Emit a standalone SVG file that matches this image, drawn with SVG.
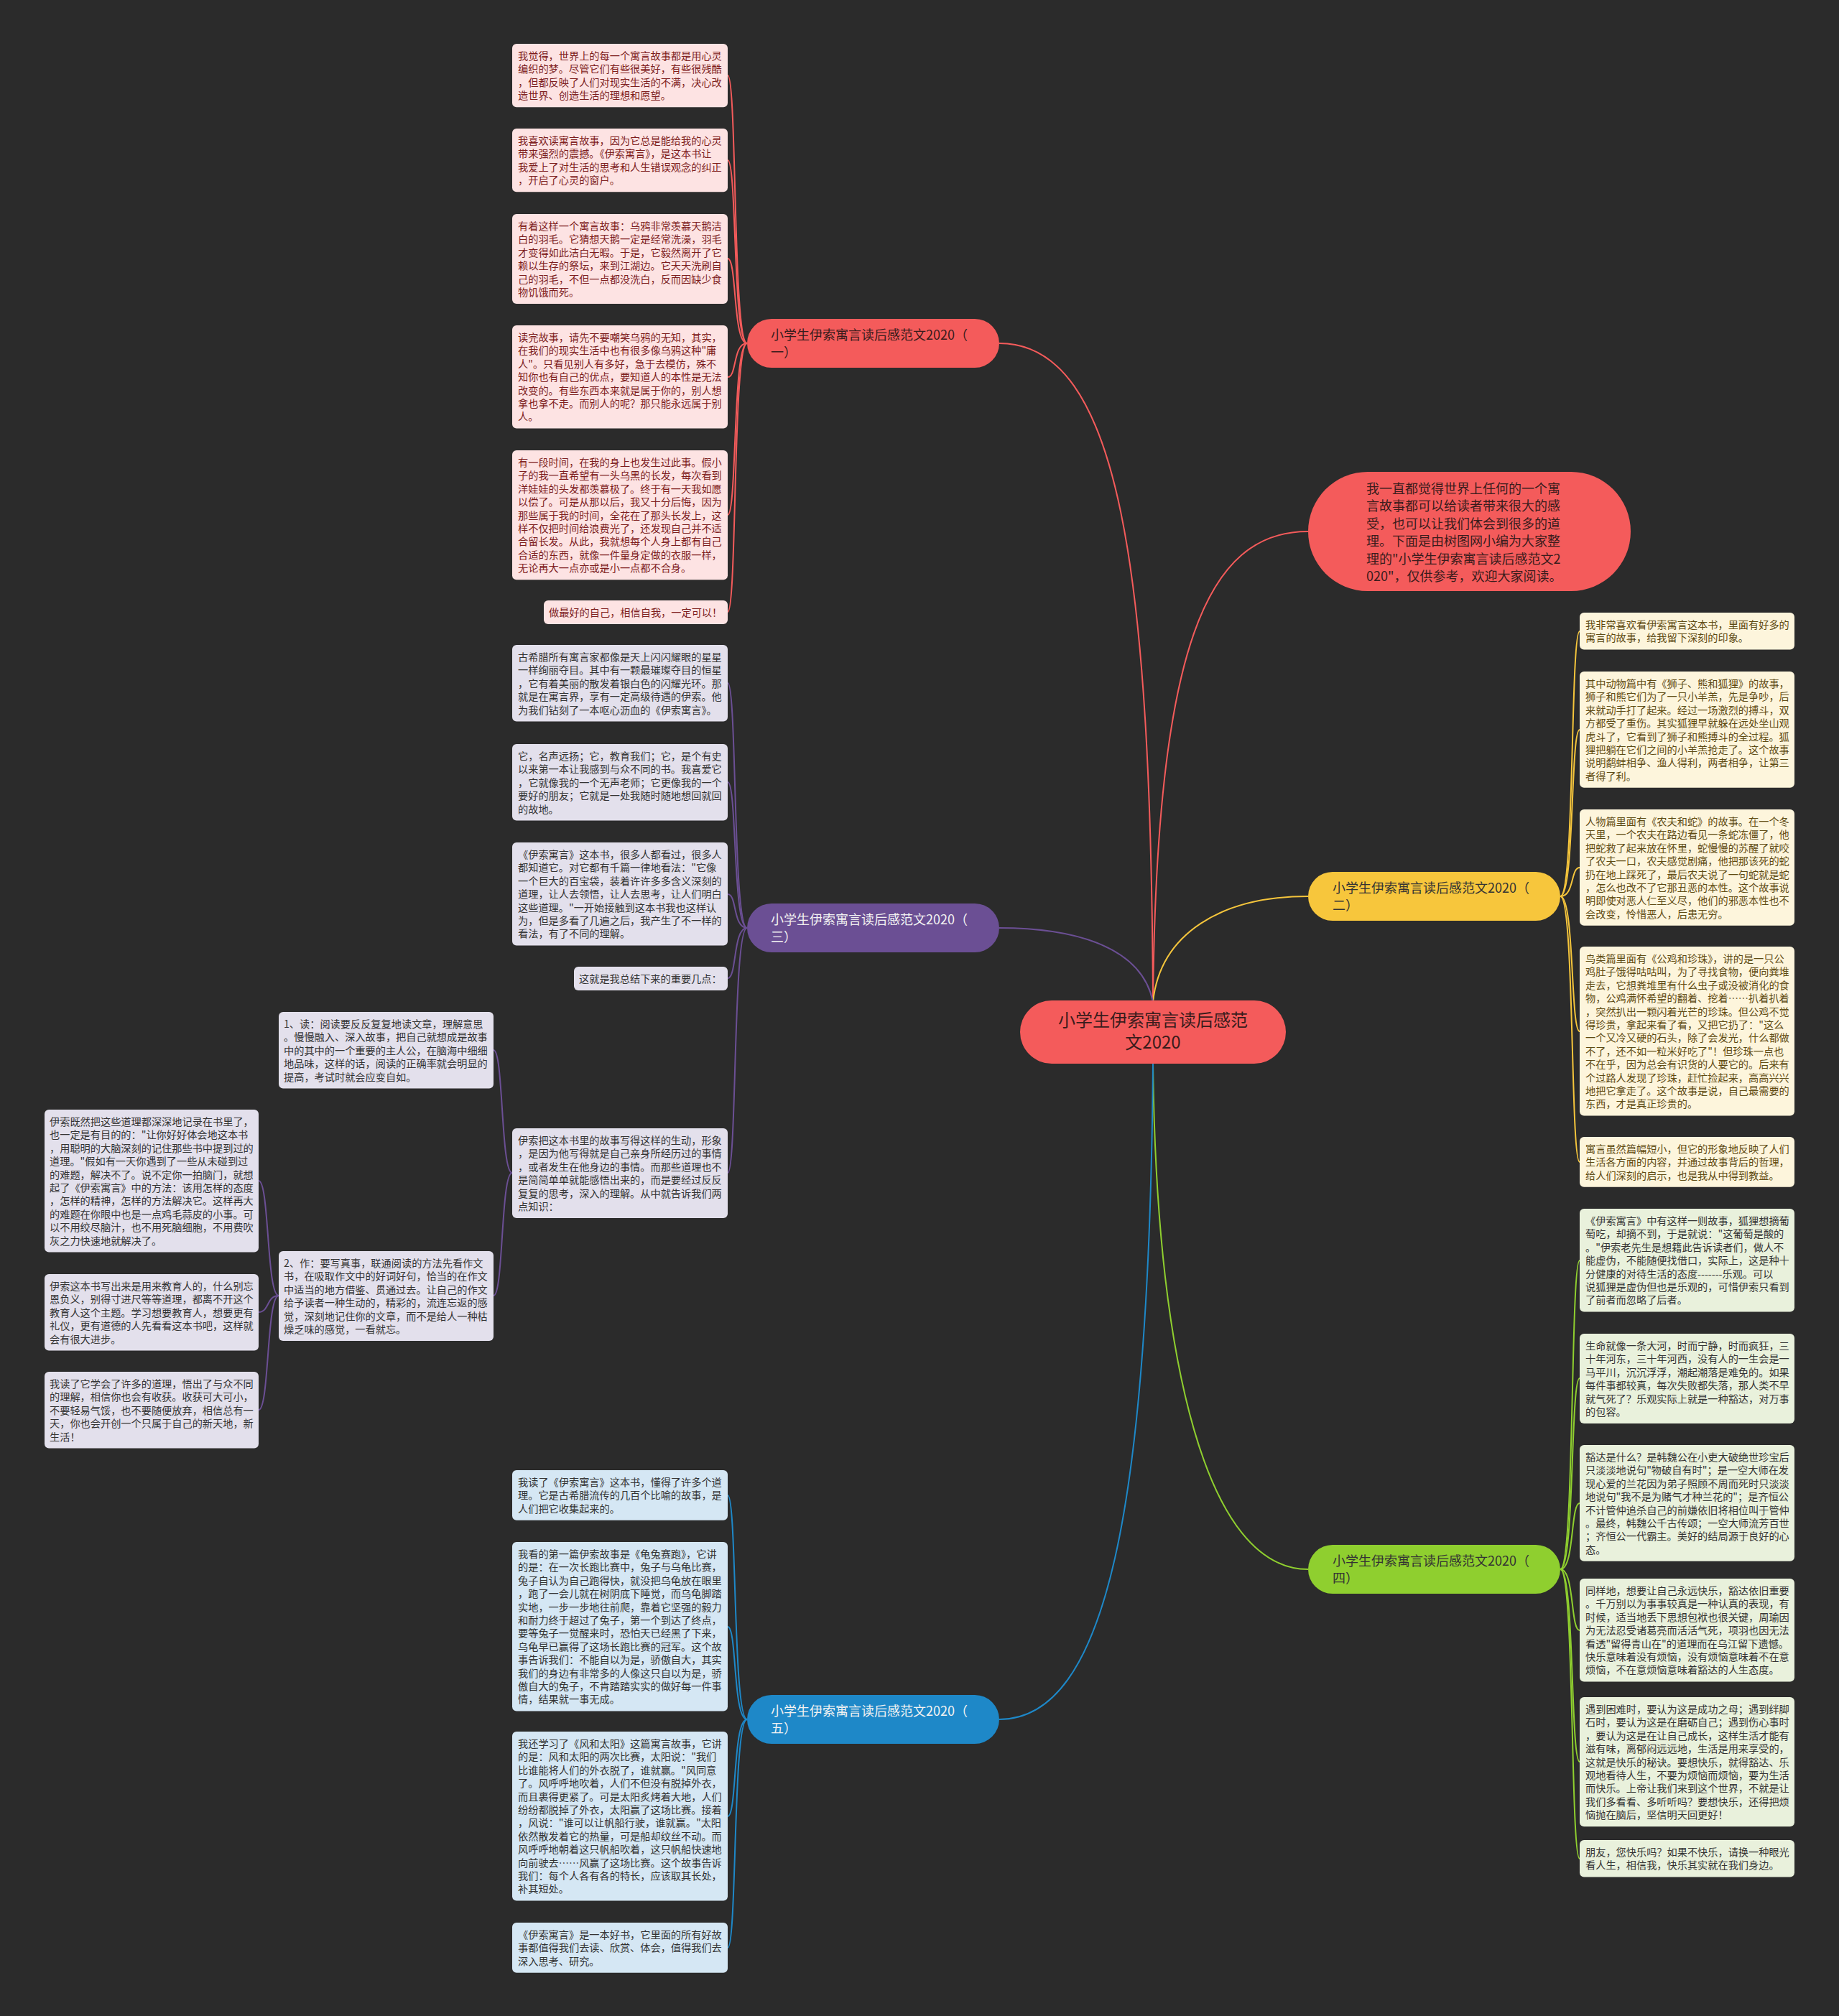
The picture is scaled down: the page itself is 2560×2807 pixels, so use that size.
<svg xmlns="http://www.w3.org/2000/svg" width="2560" height="2807" viewBox="0 0 2560 2807">
<style>
text{font-family:"Noto Sans CJK SC","Noto Sans",sans-serif;}
.leaf text{font-size:14.2px;}
.pk rect{fill:#fde3e3;} .pk text{fill:#7d1d1d;}
.yl rect{fill:#fdf5dc;} .yl text{fill:#5e4a12;}
.pu rect{fill:#e3e0ec;} .pu text{fill:#333333;}
.gr rect{fill:#e9f1dc;} .gr text{fill:#333333;}
.bl rect{fill:#d5e7f4;} .bl text{fill:#333333;}
.lbl text{font-size:18px;}
.c{fill:none;stroke-width:2;}
.cr{stroke:#f45b5b;} .cy{stroke:#f5c53c;} .cp{stroke:#6b4f94;} .cg{stroke:#8fcf2f;} .cb{stroke:#1e88c8;}
</style>
<rect x="0" y="0" width="2560" height="2807" fill="#2b2b2b"/>

<g id="connectors">
  <path class="c cr" d="M1605,1395 C1602,800 1560,478 1391,478"/>
  <path class="c cr" d="M1605,1395 C1610,900 1680,740 1821,740"/>
  <path class="c cy" d="M1605,1395 C1615,1300 1700,1248 1821,1248"/>
  <path class="c cp" d="M1605,1395 C1590,1320 1500,1292 1391,1292"/>
  <path class="c cg" d="M1605,1481 C1610,1900 1680,2185 1821,2185"/>
  <path class="c cb" d="M1605,1481 C1600,2100 1540,2394 1391,2394"/>
  <!-- branch 1 -->
  <path class="c cr" d="M1040,478 C1020,478 1026,105 1013,105"/>
  <path class="c cr" d="M1040,478 C1020,478 1026,223 1013,223"/>
  <path class="c cr" d="M1040,478 C1020,478 1026,360 1013,360"/>
  <path class="c cr" d="M1040,478 C1020,478 1026,525 1013,525"/>
  <path class="c cr" d="M1040,478 C1020,478 1026,717 1013,717"/>
  <path class="c cr" d="M1040,478 C1020,478 1026,852 1013,852"/>
  <!-- branch 3 -->
  <path class="c cp" d="M1040,1292 C1020,1292 1026,951 1013,951"/>
  <path class="c cp" d="M1040,1292 C1020,1292 1026,1089 1013,1089"/>
  <path class="c cp" d="M1040,1292 C1020,1292 1026,1245 1013,1245"/>
  <path class="c cp" d="M1040,1292 C1020,1292 1026,1362 1013,1362"/>
  <path class="c cp" d="M1040,1292 C1020,1292 1026,1633 1013,1633"/>
  <path class="c cp" d="M713,1633 C697,1633 701,1462 687,1462"/>
  <path class="c cp" d="M713,1633 C697,1633 701,1804 687,1804"/>
  <path class="c cp" d="M388,1804 C371,1804 375,1644 360,1644"/>
  <path class="c cp" d="M388,1804 C371,1804 375,1827 360,1827"/>
  <path class="c cp" d="M388,1804 C371,1804 375,1963 360,1963"/>
  <!-- branch 5 -->
  <path class="c cb" d="M1040,2394 C1020,2394 1026,2082 1013,2082"/>
  <path class="c cb" d="M1040,2394 C1020,2394 1026,2265 1013,2265"/>
  <path class="c cb" d="M1040,2394 C1020,2394 1026,2529 1013,2529"/>
  <path class="c cb" d="M1040,2394 C1020,2394 1026,2712 1013,2712"/>
  <!-- branch 2 -->
  <path class="c cy" d="M2172,1248 C2192,1248 2186,879 2199,879"/>
  <path class="c cy" d="M2172,1248 C2192,1248 2186,1016 2199,1016"/>
  <path class="c cy" d="M2172,1248 C2192,1248 2186,1208 2199,1208"/>
  <path class="c cy" d="M2172,1248 C2192,1248 2186,1436 2199,1436"/>
  <path class="c cy" d="M2172,1248 C2192,1248 2186,1618 2199,1618"/>
  <!-- branch 4 -->
  <path class="c cg" d="M2172,2185 C2192,2185 2186,1755 2199,1755"/>
  <path class="c cg" d="M2172,2185 C2192,2185 2186,1919 2199,1919"/>
  <path class="c cg" d="M2172,2185 C2192,2185 2186,2093 2199,2093"/>
  <path class="c cg" d="M2172,2185 C2192,2185 2186,2270 2199,2270"/>
  <path class="c cg" d="M2172,2185 C2192,2185 2186,2453 2199,2453"/>
  <path class="c cg" d="M2172,2185 C2192,2185 2186,2588 2199,2588"/>
</g>

<g id="center">
  <rect x="1420" y="1393" width="370" height="88" rx="44" fill="#f45b5b"/>
  <text x="1605" y="1429" font-size="24" fill="#3a1c1c" text-anchor="middle">小学生伊索寓言读后感范<tspan x="1605" dy="31">文2020</tspan></text>
</g>

<g id="intro">
  <rect x="1821" y="657" width="449" height="166" rx="83" fill="#f45b5b"/>
  <text x="1902" y="687" font-size="18" fill="#3a1c1c"><tspan x="1902">我一直都觉得世界上任何的一个寓</tspan><tspan x="1902" dy="24.4">言故事都可以给读者带来很大的感</tspan><tspan x="1902" dy="24.4">受，也可以让我们体会到很多的道</tspan><tspan x="1902" dy="24.4">理。下面是由树图网小编为大家整</tspan><tspan x="1902" dy="24.4">理的"小学生伊索寓言读后感范文2</tspan><tspan x="1902" dy="24.4">020"，仅供参考，欢迎大家阅读。</tspan></text>
</g>

<g id="branch1" class="lbl">
  <rect x="1040" y="444" width="351" height="68" rx="34" fill="#f45b5b"/>
  <text x="1073" y="473" fill="#3a1c1c">小学生伊索寓言读后感范文2020（<tspan x="1073" dy="24">一）</tspan></text>
</g>
<g id="branch2" class="lbl">
  <rect x="1821" y="1214" width="351" height="68" rx="34" fill="#f7c63c"/>
  <text x="1855" y="1243" fill="#333333">小学生伊索寓言读后感范文2020（<tspan x="1855" dy="24">二）</tspan></text>
</g>
<g id="branch3" class="lbl">
  <rect x="1040" y="1258" width="351" height="68" rx="34" fill="#6b4f94"/>
  <text x="1073" y="1287" fill="#f2f2f2">小学生伊索寓言读后感范文2020（<tspan x="1073" dy="24">三）</tspan></text>
</g>
<g id="branch4" class="lbl">
  <rect x="1821" y="2151" width="351" height="68" rx="34" fill="#8fcf2f"/>
  <text x="1855" y="2180" fill="#333333">小学生伊索寓言读后感范文2020（<tspan x="1855" dy="24">四）</tspan></text>
</g>
<g id="branch5" class="lbl">
  <rect x="1040" y="2360" width="351" height="68" rx="34" fill="#1e88c8"/>
  <text x="1073" y="2389" fill="#f2f2f2">小学生伊索寓言读后感范文2020（<tspan x="1073" dy="24">五）</tspan></text>
</g>

<!-- branch 1 leaves -->
<g id="b1-1" class="leaf pk"><rect x="713" y="61" width="300" height="88.2" rx="6"/>
<text y="83"><tspan x="721">我觉得，世界上的每一个寓言故事都是用心灵</tspan><tspan x="721" dy="18.4">编织的梦。尽管它们有些很美好，有些很残酷</tspan><tspan x="721" dy="18.4">，但都反映了人们对现实生活的不满，决心改</tspan><tspan x="721" dy="18.4">造世界、创造生活的理想和愿望。</tspan></text></g>
<g id="b1-2" class="leaf pk"><rect x="713" y="179" width="300" height="88.2" rx="6"/>
<text y="201"><tspan x="721">我喜欢读寓言故事，因为它总是能给我的心灵</tspan><tspan x="721" dy="18.4">带来强烈的震撼。《伊索寓言》，是这本书让</tspan><tspan x="721" dy="18.4">我爱上了对生活的思考和人生错误观念的纠正</tspan><tspan x="721" dy="18.4">，开启了心灵的窗户。</tspan></text></g>
<g id="b1-3" class="leaf pk"><rect x="713" y="298" width="300" height="125" rx="6"/>
<text y="320"><tspan x="721">有着这样一个寓言故事：乌鸦非常羡慕天鹅洁</tspan><tspan x="721" dy="18.4">白的羽毛。它猜想天鹅一定是经常洗澡，羽毛</tspan><tspan x="721" dy="18.4">才变得如此洁白无暇。于是，它毅然离开了它</tspan><tspan x="721" dy="18.4">赖以生存的祭坛，来到江湖边。它天天洗刷自</tspan><tspan x="721" dy="18.4">己的羽毛，不但一点都没洗白，反而因缺少食</tspan><tspan x="721" dy="18.4">物饥饿而死。</tspan></text></g>
<g id="b1-4" class="leaf pk"><rect x="713" y="453" width="300" height="143.4" rx="6"/>
<text y="475"><tspan x="721">读完故事，请先不要嘲笑乌鸦的无知，其实，</tspan><tspan x="721" dy="18.4">在我们的现实生活中也有很多像乌鸦这种"庸</tspan><tspan x="721" dy="18.4">人"。只看见别人有多好，急于去模仿，殊不</tspan><tspan x="721" dy="18.4">知你也有自己的优点，要知道人的本性是无法</tspan><tspan x="721" dy="18.4">改变的。有些东西本来就是属于你的，别人想</tspan><tspan x="721" dy="18.4">拿也拿不走。而别人的呢？那只能永远属于别</tspan><tspan x="721" dy="18.4">人。</tspan></text></g>
<g id="b1-5" class="leaf pk"><rect x="713" y="627" width="300" height="180.2" rx="6"/>
<text y="649"><tspan x="721">有一段时间，在我的身上也发生过此事。假小</tspan><tspan x="721" dy="18.4">子的我一直希望有一头乌黑的长发，每次看到</tspan><tspan x="721" dy="18.4">洋娃娃的头发都羡慕极了。终于有一天我如愿</tspan><tspan x="721" dy="18.4">以偿了。可是从那以后，我又十分后悔，因为</tspan><tspan x="721" dy="18.4">那些属于我的时间，全花在了那头长发上，这</tspan><tspan x="721" dy="18.4">样不仅把时间给浪费光了，还发现自己并不适</tspan><tspan x="721" dy="18.4">合留长发。从此，我就想每个人身上都有自己</tspan><tspan x="721" dy="18.4">合适的东西，就像一件量身定做的衣服一样，</tspan><tspan x="721" dy="18.4">无论再大一点亦或是小一点都不合身。</tspan></text></g>
<g id="b1-6" class="leaf pk"><rect x="757" y="836" width="256" height="33" rx="6"/>
<text y="858"><tspan x="764">做最好的自己，相信自我，一定可以！</tspan></text></g>

<!-- branch 3 leaves -->
<g id="b3-1" class="leaf pu"><rect x="713" y="898" width="300" height="106.6" rx="6"/>
<text y="920"><tspan x="721">古希腊所有寓言家都像是天上闪闪耀眼的星星</tspan><tspan x="721" dy="18.4">一样绚丽夺目。其中有一颗最璀璨夺目的恒星</tspan><tspan x="721" dy="18.4">，它有着美丽的散发着银白色的闪耀光环。那</tspan><tspan x="721" dy="18.4">就是在寓言界，享有一定高级待遇的伊索。他</tspan><tspan x="721" dy="18.4">为我们钻刻了一本呕心沥血的《伊索寓言》。</tspan></text></g>
<g id="b3-2" class="leaf pu"><rect x="713" y="1036" width="300" height="106.6" rx="6"/>
<text y="1058"><tspan x="721">它，名声远扬；它，教育我们；它，是个有史</tspan><tspan x="721" dy="18.4">以来第一本让我感到与众不同的书。我喜爱它</tspan><tspan x="721" dy="18.4">，它就像我的一个无声老师；它更像我的一个</tspan><tspan x="721" dy="18.4">要好的朋友；它就是一处我随时随地想回就回</tspan><tspan x="721" dy="18.4">的故地。</tspan></text></g>
<g id="b3-3" class="leaf pu"><rect x="713" y="1173" width="300" height="143.4" rx="6"/>
<text y="1195"><tspan x="721">《伊索寓言》这本书，很多人都看过，很多人</tspan><tspan x="721" dy="18.4">都知道它。对它都有千篇一律地看法："它像</tspan><tspan x="721" dy="18.4">一个巨大的百宝袋，装着许许多多含义深刻的</tspan><tspan x="721" dy="18.4">道理，让人去领悟，让人去思考，让人们明白</tspan><tspan x="721" dy="18.4">这些道理。"一开始接触到这本书我也这样认</tspan><tspan x="721" dy="18.4">为，但是多看了几遍之后，我产生了不一样的</tspan><tspan x="721" dy="18.4">看法，有了不同的理解。</tspan></text></g>
<g id="b3-4" class="leaf pu"><rect x="799" y="1346" width="214" height="33" rx="6"/>
<text y="1368"><tspan x="806">这就是我总结下来的重要几点：</tspan></text></g>
<g id="b3-5" class="leaf pu"><rect x="713" y="1571" width="300" height="125" rx="6"/>
<text y="1593"><tspan x="721">伊索把这本书里的故事写得这样的生动，形象</tspan><tspan x="721" dy="18.4">，是因为他写得就是自己亲身所经历过的事情</tspan><tspan x="721" dy="18.4">，或者发生在他身边的事情。而那些道理也不</tspan><tspan x="721" dy="18.4">是简简单单就能感悟出来的，而是要经过反反</tspan><tspan x="721" dy="18.4">复复的思考，深入的理解。从中就告诉我们两</tspan><tspan x="721" dy="18.4">点知识：</tspan></text></g>
<g id="b3-5-1" class="leaf pu"><rect x="388" y="1409" width="299" height="106.6" rx="6"/>
<text y="1431"><tspan x="395">1、读：阅读要反反复复地读文章，理解意思</tspan><tspan x="395" dy="18.4">。慢慢融入、深入故事，把自己就想成是故事</tspan><tspan x="395" dy="18.4">中的其中的一个重要的主人公，在脑海中细细</tspan><tspan x="395" dy="18.4">地品味，这样的话，阅读的正确率就会明显的</tspan><tspan x="395" dy="18.4">提高，考试时就会应变自如。</tspan></text></g>
<g id="b3-5-2" class="leaf pu"><rect x="388" y="1742" width="299" height="125" rx="6"/>
<text y="1764"><tspan x="395">2、作：要写真事，联通阅读的方法先看作文</tspan><tspan x="395" dy="18.4">书，在吸取作文中的好词好句，恰当的在作文</tspan><tspan x="395" dy="18.4">中适当的地方借鉴、贯通过去。让自己的作文</tspan><tspan x="395" dy="18.4">给予读者一种生动的，精彩的，流连忘返的感</tspan><tspan x="395" dy="18.4">觉，深刻地记住你的文章，而不是给人一种枯</tspan><tspan x="395" dy="18.4">燥乏味的感觉，一看就忘。</tspan></text></g>
<g id="b3-5-2-1" class="leaf pu"><rect x="62" y="1545" width="298" height="198.6" rx="6"/>
<text y="1567"><tspan x="69">伊索既然把这些道理都深深地记录在书里了，</tspan><tspan x="69" dy="18.4">也一定是有目的的："让你好好体会地这本书</tspan><tspan x="69" dy="18.4">，用聪明的大脑深刻的记住那些书中提到过的</tspan><tspan x="69" dy="18.4">道理。"假如有一天你遇到了一些从未碰到过</tspan><tspan x="69" dy="18.4">的难题，解决不了。说不定你一拍脑门，就想</tspan><tspan x="69" dy="18.4">起了《伊索寓言》中的方法：该用怎样的态度</tspan><tspan x="69" dy="18.4">，怎样的精神，怎样的方法解决它。这样再大</tspan><tspan x="69" dy="18.4">的难题在你眼中也是一点鸡毛蒜皮的小事。可</tspan><tspan x="69" dy="18.4">以不用绞尽脑汁，也不用死脑细胞，不用费吹</tspan><tspan x="69" dy="18.4">灰之力快速地就解决了。</tspan></text></g>
<g id="b3-5-2-2" class="leaf pu"><rect x="62" y="1774" width="298" height="106.6" rx="6"/>
<text y="1796"><tspan x="69">伊索这本书写出来是用来教育人的，什么别忘</tspan><tspan x="69" dy="18.4">恩负义，别得寸进尺等等道理，都离不开这个</tspan><tspan x="69" dy="18.4">教育人这个主题。学习想要教育人，想要更有</tspan><tspan x="69" dy="18.4">礼仪，更有道德的人先看看这本书吧，这样就</tspan><tspan x="69" dy="18.4">会有很大进步。</tspan></text></g>
<g id="b3-5-2-3" class="leaf pu"><rect x="62" y="1910" width="298" height="106.6" rx="6"/>
<text y="1932"><tspan x="69">我读了它学会了许多的道理，悟出了与众不同</tspan><tspan x="69" dy="18.4">的理解，相信你也会有收获。收获可大可小，</tspan><tspan x="69" dy="18.4">不要轻易气馁，也不要随便放弃，相信总有一</tspan><tspan x="69" dy="18.4">天，你也会开创一个只属于自己的新天地，新</tspan><tspan x="69" dy="18.4">生活！</tspan></text></g>

<!-- branch 5 leaves -->
<g id="b5-1" class="leaf bl"><rect x="713" y="2047" width="300" height="69.8" rx="6"/>
<text y="2069"><tspan x="721">我读了《伊索寓言》这本书，懂得了许多个道</tspan><tspan x="721" dy="18.4">理。它是古希腊流传的几百个比喻的故事，是</tspan><tspan x="721" dy="18.4">人们把它收集起来的。</tspan></text></g>
<g id="b5-2" class="leaf bl"><rect x="713" y="2147" width="300" height="235.4" rx="6"/>
<text y="2169"><tspan x="721">我看的第一篇伊索故事是《龟兔赛跑》，它讲</tspan><tspan x="721" dy="18.4">的是：在一次长跑比赛中，兔子与乌龟比赛，</tspan><tspan x="721" dy="18.4">兔子自认为自己跑得快，就没把乌龟放在眼里</tspan><tspan x="721" dy="18.4">，跑了一会儿就在树阴底下睡觉，而乌龟脚踏</tspan><tspan x="721" dy="18.4">实地，一步一步地往前爬，靠着它坚强的毅力</tspan><tspan x="721" dy="18.4">和耐力终于超过了兔子，第一个到达了终点，</tspan><tspan x="721" dy="18.4">要等兔子一觉醒来时，恐怕天已经黑了下来，</tspan><tspan x="721" dy="18.4">乌龟早已赢得了这场长跑比赛的冠军。这个故</tspan><tspan x="721" dy="18.4">事告诉我们：不能自以为是，骄傲自大，其实</tspan><tspan x="721" dy="18.4">我们的身边有非常多的人像这只自以为是，骄</tspan><tspan x="721" dy="18.4">傲自大的兔子，不肯踏踏实实的做好每一件事</tspan><tspan x="721" dy="18.4">情，结果就一事无成。</tspan></text></g>
<g id="b5-3" class="leaf bl"><rect x="713" y="2411" width="300" height="235.4" rx="6"/>
<text y="2433"><tspan x="721">我还学习了《风和太阳》这篇寓言故事，它讲</tspan><tspan x="721" dy="18.4">的是：风和太阳的两次比赛，太阳说："我们</tspan><tspan x="721" dy="18.4">比谁能将人们的外衣脱了，谁就赢。"风同意</tspan><tspan x="721" dy="18.4">了。风呼呼地吹着，人们不但没有脱掉外衣，</tspan><tspan x="721" dy="18.4">而且裹得更紧了。可是太阳炙烤着大地，人们</tspan><tspan x="721" dy="18.4">纷纷都脱掉了外衣，太阳赢了这场比赛。接着</tspan><tspan x="721" dy="18.4">，风说："谁可以让帆船行驶，谁就赢。"太阳</tspan><tspan x="721" dy="18.4">依然散发着它的热量，可是船却纹丝不动。而</tspan><tspan x="721" dy="18.4">风呼呼地朝着这只帆船吹着，这只帆船快速地</tspan><tspan x="721" dy="18.4">向前驶去……风赢了这场比赛。这个故事告诉</tspan><tspan x="721" dy="18.4">我们：每个人各有各的特长，应该取其长处，</tspan><tspan x="721" dy="18.4">补其短处。</tspan></text></g>
<g id="b5-4" class="leaf bl"><rect x="713" y="2677" width="300" height="69.8" rx="6"/>
<text y="2699"><tspan x="721">《伊索寓言》是一本好书，它里面的所有好故</tspan><tspan x="721" dy="18.4">事都值得我们去读、欣赏、体会，值得我们去</tspan><tspan x="721" dy="18.4">深入思考、研究。</tspan></text></g>

<!-- branch 2 leaves -->
<g id="b2-1" class="leaf yl"><rect x="2199" y="853" width="299" height="51.4" rx="6"/>
<text y="875"><tspan x="2207">我非常喜欢看伊索寓言这本书，里面有好多的</tspan><tspan x="2207" dy="18.4">寓言的故事，给我留下深刻的印象。</tspan></text></g>
<g id="b2-2" class="leaf yl"><rect x="2199" y="935" width="299" height="161.8" rx="6"/>
<text y="957"><tspan x="2207">其中动物篇中有《狮子、熊和狐狸》的故事，</tspan><tspan x="2207" dy="18.4">狮子和熊它们为了一只小羊羔，先是争吵，后</tspan><tspan x="2207" dy="18.4">来就动手打了起来。经过一场激烈的搏斗，双</tspan><tspan x="2207" dy="18.4">方都受了重伤。其实狐狸早就躲在远处坐山观</tspan><tspan x="2207" dy="18.4">虎斗了，它看到了狮子和熊搏斗的全过程。狐</tspan><tspan x="2207" dy="18.4">狸把躺在它们之间的小羊羔抢走了。这个故事</tspan><tspan x="2207" dy="18.4">说明鹬蚌相争、渔人得利，两者相争，让第三</tspan><tspan x="2207" dy="18.4">者得了利。</tspan></text></g>
<g id="b2-3" class="leaf yl"><rect x="2199" y="1127" width="299" height="161.8" rx="6"/>
<text y="1149"><tspan x="2207">人物篇里面有《农夫和蛇》的故事。在一个冬</tspan><tspan x="2207" dy="18.4">天里，一个农夫在路边看见一条蛇冻僵了，他</tspan><tspan x="2207" dy="18.4">把蛇救了起来放在怀里，蛇慢慢的苏醒了就咬</tspan><tspan x="2207" dy="18.4">了农夫一口，农夫感觉剧痛，他把那该死的蛇</tspan><tspan x="2207" dy="18.4">扔在地上踩死了，最后农夫说了一句蛇就是蛇</tspan><tspan x="2207" dy="18.4">，怎么也改不了它那丑恶的本性。这个故事说</tspan><tspan x="2207" dy="18.4">明即使对恶人仁至义尽，他们的邪恶本性也不</tspan><tspan x="2207" dy="18.4">会改变，怜惜恶人，后患无穷。</tspan></text></g>
<g id="b2-4" class="leaf yl"><rect x="2199" y="1318" width="299" height="235.4" rx="6"/>
<text y="1340"><tspan x="2207">鸟类篇里面有《公鸡和珍珠》，讲的是一只公</tspan><tspan x="2207" dy="18.4">鸡肚子饿得咕咕叫，为了寻找食物，便向粪堆</tspan><tspan x="2207" dy="18.4">走去，它想粪堆里有什么虫子或没被消化的食</tspan><tspan x="2207" dy="18.4">物，公鸡满怀希望的翻着、挖着……扒着扒着</tspan><tspan x="2207" dy="18.4">，突然扒出一颗闪着光芒的珍珠。但公鸡不觉</tspan><tspan x="2207" dy="18.4">得珍贵，拿起来看了看，又把它扔了："这么</tspan><tspan x="2207" dy="18.4">一个又冷又硬的石头，除了会发光，什么都做</tspan><tspan x="2207" dy="18.4">不了，还不如一粒米好吃了"！但珍珠一点也</tspan><tspan x="2207" dy="18.4">不在乎，因为总会有识货的人要它的。后来有</tspan><tspan x="2207" dy="18.4">个过路人发现了珍珠，赶忙捡起来，高高兴兴</tspan><tspan x="2207" dy="18.4">地把它拿走了。这个故事是说，自己最需要的</tspan><tspan x="2207" dy="18.4">东西，才是真正珍贵的。</tspan></text></g>
<g id="b2-5" class="leaf yl"><rect x="2199" y="1583" width="299" height="69.8" rx="6"/>
<text y="1605"><tspan x="2207">寓言虽然篇幅短小，但它的形象地反映了人们</tspan><tspan x="2207" dy="18.4">生活各方面的内容，并通过故事背后的哲理，</tspan><tspan x="2207" dy="18.4">给人们深刻的启示，也是我从中得到教益。</tspan></text></g>

<!-- branch 4 leaves -->
<g id="b4-1" class="leaf gr"><rect x="2199" y="1683" width="299" height="143.4" rx="6"/>
<text y="1705"><tspan x="2207">《伊索寓言》中有这样一则故事，狐狸想摘葡</tspan><tspan x="2207" dy="18.4">萄吃，却摘不到，于是就说："这葡萄是酸的</tspan><tspan x="2207" dy="18.4">。"伊索老先生是想籍此告诉读者们，做人不</tspan><tspan x="2207" dy="18.4">能虚伪，不能随便找借口，实际上，这是种十</tspan><tspan x="2207" dy="18.4">分健康的对待生活的态度-------乐观。可以</tspan><tspan x="2207" dy="18.4">说狐狸是虚伪但也是乐观的，可惜伊索只看到</tspan><tspan x="2207" dy="18.4">了前者而忽略了后者。</tspan></text></g>
<g id="b4-2" class="leaf gr"><rect x="2199" y="1857" width="299" height="125" rx="6"/>
<text y="1879"><tspan x="2207">生命就像一条大河，时而宁静，时而疯狂，三</tspan><tspan x="2207" dy="18.4">十年河东，三十年河西，没有人的一生会是一</tspan><tspan x="2207" dy="18.4">马平川，沉沉浮浮，潮起潮落是难免的。如果</tspan><tspan x="2207" dy="18.4">每件事都较真，每次失败都失落，那人类不早</tspan><tspan x="2207" dy="18.4">就气死了？乐观实际上就是一种豁达，对万事</tspan><tspan x="2207" dy="18.4">的包容。</tspan></text></g>
<g id="b4-3" class="leaf gr"><rect x="2199" y="2012" width="299" height="161.8" rx="6"/>
<text y="2034"><tspan x="2207">豁达是什么？是韩魏公在小吏大破绝世珍宝后</tspan><tspan x="2207" dy="18.4">只淡淡地说句"物破自有时"；是一空大师在发</tspan><tspan x="2207" dy="18.4">现心爱的兰花因为弟子照顾不周而死时只淡淡</tspan><tspan x="2207" dy="18.4">地说句"我不是为赌气才种兰花的"；是齐恒公</tspan><tspan x="2207" dy="18.4">不计管仲追杀自己的前嫌依旧将相位叫于管仲</tspan><tspan x="2207" dy="18.4">。最终，韩魏公千古传颂；一空大师流芳百世</tspan><tspan x="2207" dy="18.4">；齐恒公一代霸主。美好的结局源于良好的心</tspan><tspan x="2207" dy="18.4">态。</tspan></text></g>
<g id="b4-4" class="leaf gr"><rect x="2199" y="2198" width="299" height="143.4" rx="6"/>
<text y="2220"><tspan x="2207">同样地，想要让自己永远快乐，豁达依旧重要</tspan><tspan x="2207" dy="18.4">。千万别以为事事较真是一种认真的表现，有</tspan><tspan x="2207" dy="18.4">时候，适当地丢下思想包袱也很关键，周瑜因</tspan><tspan x="2207" dy="18.4">为无法忍受诸葛亮而活活气死，项羽也因无法</tspan><tspan x="2207" dy="18.4">看透"留得青山在"的道理而在乌江留下遗憾。</tspan><tspan x="2207" dy="18.4">快乐意味着没有烦恼，没有烦恼意味着不在意</tspan><tspan x="2207" dy="18.4">烦恼，不在意烦恼意味着豁达的人生态度。</tspan></text></g>
<g id="b4-5" class="leaf gr"><rect x="2199" y="2363" width="299" height="180.2" rx="6"/>
<text y="2385"><tspan x="2207">遇到困难时，要认为这是成功之母；遇到绊脚</tspan><tspan x="2207" dy="18.4">石时，要认为这是在磨砺自己；遇到伤心事时</tspan><tspan x="2207" dy="18.4">，要认为这是在让自己成长，这样生活才能有</tspan><tspan x="2207" dy="18.4">滋有味，离郁闷远远地，生活是用来享受的，</tspan><tspan x="2207" dy="18.4">这就是快乐的秘诀。要想快乐，就得豁达、乐</tspan><tspan x="2207" dy="18.4">观地看待人生，不要为烦恼而烦恼，要为生活</tspan><tspan x="2207" dy="18.4">而快乐。上帝让我们来到这个世界，不就是让</tspan><tspan x="2207" dy="18.4">我们多看看、多听听吗？要想快乐，还得把烦</tspan><tspan x="2207" dy="18.4">恼抛在脑后，坚信明天回更好！</tspan></text></g>
<g id="b4-6" class="leaf gr"><rect x="2199" y="2562" width="299" height="51.4" rx="6"/>
<text y="2584"><tspan x="2207">朋友，您快乐吗？如果不快乐，请换一种眼光</tspan><tspan x="2207" dy="18.4">看人生，相信我，快乐其实就在我们身边。</tspan></text></g>
</svg>
